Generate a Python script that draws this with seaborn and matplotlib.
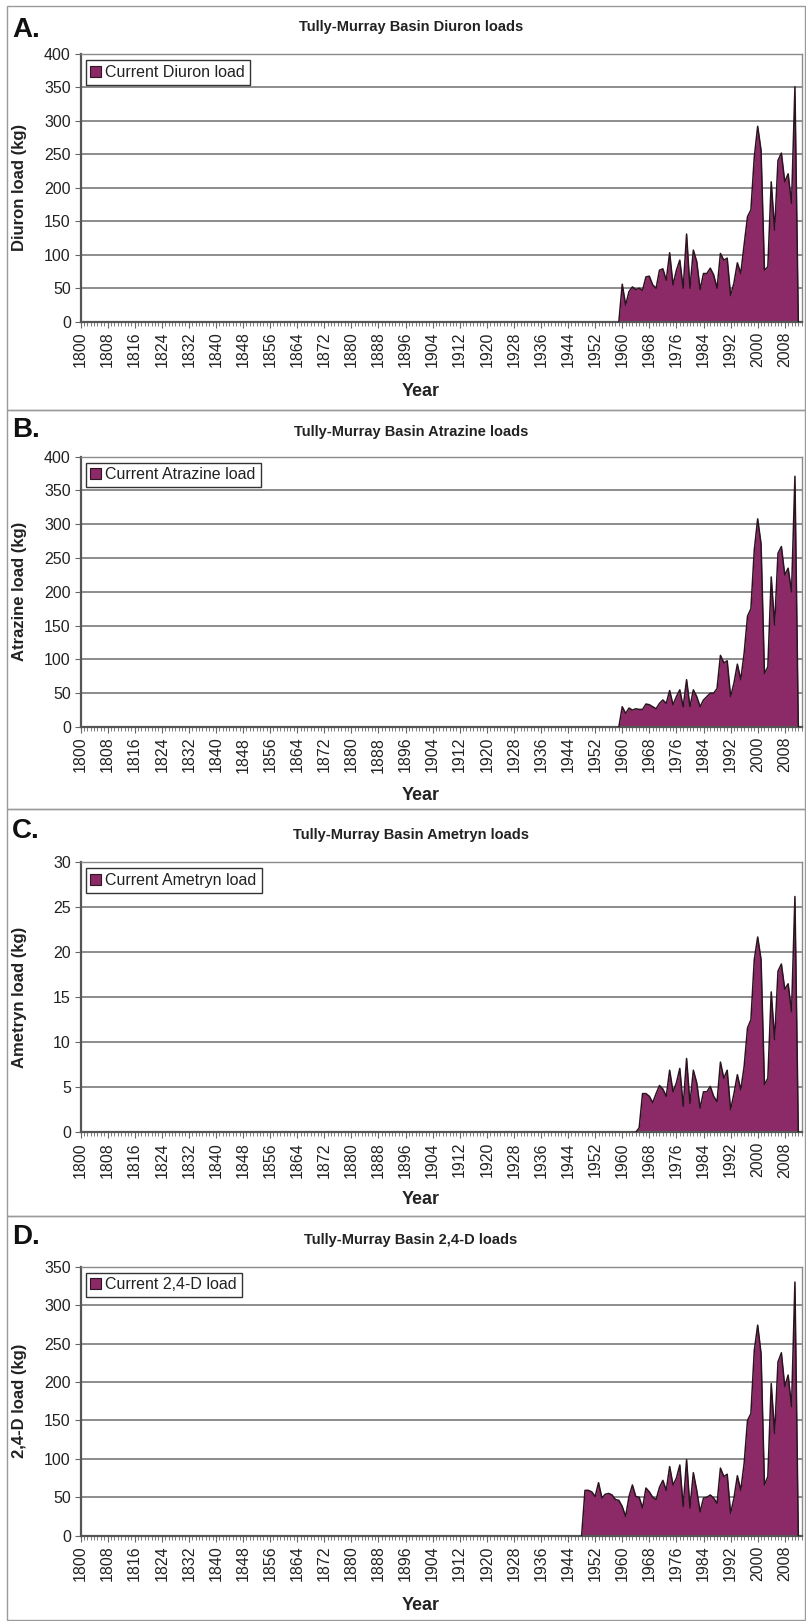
import numpy as np
import pandas as pd
import matplotlib
matplotlib.use("Agg")
import matplotlib.pyplot as plt
from matplotlib.patches import Patch, Rectangle
import seaborn as sns

# ---------------- data ----------------
years = np.arange(1800, 2014)

diuron_start = 1960
diuron_loads = [56, 25, 45, 52, 48, 50, 47, 67, 68, 55, 50, 77, 79, 62, 103, 55, 77, 92, 50, 131,
                50, 107, 90, 48, 72, 72, 80, 70, 50, 102, 92, 95, 39, 58, 88, 72, 115, 157, 167, 246,
                292, 256, 77, 82, 209, 137, 241, 252, 209, 221, 177, 351]

atrazine_start = 1960
atrazine_loads = [30, 20, 28, 25, 27, 26, 26, 34, 33, 30, 27, 35, 40, 35, 54, 33, 45, 55, 30, 70,
                  30, 55, 45, 30, 40, 45, 50, 50, 57, 106, 95, 98, 45, 65, 93, 70, 109, 164, 175, 262,
                  308, 271, 79, 89, 222, 151, 257, 267, 225, 235, 200, 371]

ametryn_start = 1965
ametryn_loads = [0.5, 4.3, 4.3, 4.0, 3.3, 4.3, 5.2, 4.8, 4.0, 6.9, 4.5, 5.5, 7.1, 2.9, 8.2, 3.2,
                 6.9, 5.5, 2.7, 4.5, 4.5, 5.1, 4.0, 3.4, 7.8, 6.0, 6.9, 2.5, 4.3, 6.4, 4.7, 7.3,
                 11.6, 12.5, 19.2, 21.7, 19.2, 5.3, 6.0, 15.6, 10.3, 17.9, 18.7, 15.9, 16.5, 13.4, 26.2]

d24_start = 1949
d24_loads = [59, 59, 57, 51, 69, 49, 54, 55, 53, 47, 46, 38, 25, 51, 66, 51, 50, 36, 62, 57,
             50, 47, 63, 72, 59, 90, 66, 75, 92, 38, 99, 36, 82, 59, 31, 49, 50, 53, 49, 42,
             88, 77, 80, 29, 49, 78, 59, 94, 150, 159, 241, 274, 237, 66, 77, 198, 133, 226,
             238, 194, 209, 168, 330]

titles = ["Tully-Murray Basin Diuron loads", "Tully-Murray Basin Atrazine loads",
          "Tully-Murray Basin Ametryn loads", "Tully-Murray Basin 2,4-D loads"]
ylabels = ["Diuron load (kg)", "Atrazine load (kg)", "Ametryn load (kg)", "2,4-D load (kg)"]
legend_labels = ["Current Diuron load", "Current Atrazine load",
                 "Current Ametryn load", "Current 2,4-D load"]
panel_letters = ["A.", "B.", "C.", "D."]
ymaxes = [400, 400, 30, 350]
ysteps = [50, 50, 5, 50]
xtick_years = list(range(1800, 2009, 8))

series = [(diuron_start, diuron_loads), (atrazine_start, atrazine_loads),
          (ametryn_start, ametryn_loads), (d24_start, d24_loads)]

# ---------------- style ----------------
sns.set_theme(style="white")
plt.rcParams["font.family"] = ["Liberation Sans", "DejaVu Sans"]

PURPLE = "#8b2a66"
EDGE = "#2a1420"
GRID = "#8c8c8c"
TXT = "#222222"

W, H = 806, 1621
fig = plt.figure(figsize=(W / 100, H / 100), dpi=100)
fig.patch.set_facecolor("white")

def fx(x):
    return x / W

def fy(y):
    return 1 - y / H

# geometry in pixels: (box_top, box_bottom, plot_top, plot_bottom, title_y, letter_y, year_y)
geom = [
    (6, 410, 54, 321.7, 27, 30, 391),
    (410, 809, 456.7, 727, 432, 430, 796),
    (809, 1216, 862.3, 1132.3, 835, 831, 1199),
    (1216, 1620, 1266.7, 1535.7, 1240, 1237, 1605),
]
PL, PR = 80.5, 801.7

for i in range(4):
    bt, bb, pt, pb, ty, ly, yy = geom[i]
    fig.patches.append(Rectangle((fx(7), fy(bb)), fx(805) - fx(7), fy(bt) - fy(bb),
                                 transform=fig.transFigure, fill=False,
                                 edgecolor="#9a9a9a", linewidth=1.0))
    ax = fig.add_axes([fx(PL), fy(pb), fx(PR) - fx(PL), fy(pt) - fy(pb)])

    start, vals = series[i]
    full = np.zeros(len(years))
    idx0 = start - 1800
    full[idx0:idx0 + len(vals)] = vals
    df = pd.DataFrame({"Year": years, "Load": full})

    ax.fill_between(df["Year"], df["Load"], color=PURPLE, linewidth=0, zorder=2)
    sub = df[(df["Year"] >= start - 1) & (df["Year"] <= 2012)]
    sns.lineplot(data=sub, x="Year", y="Load", ax=ax, color=EDGE, linewidth=1.1,
                 zorder=3, estimator=None)

    ax.set_xlim(1800, 2013)
    ax.set_ylim(0, ymaxes[i])
    ax.set_yticks(np.arange(0, ymaxes[i] + 1, ysteps[i]))
    ax.set_xticks(xtick_years)
    ax.set_xticklabels([str(y) for y in xtick_years], rotation=90)
    ax.set_xticks(np.arange(1800, 2014, 1), minor=True)
    ax.yaxis.grid(True, color=GRID, linewidth=1.4)
    ax.xaxis.grid(False)
    ax.set_axisbelow(True)
    ax.tick_params(axis="both", which="both", direction="out", length=4, width=0.8,
                   color="#666666", labelsize=11.5, labelcolor=TXT, pad=3)
    ax.tick_params(axis="x", which="minor", length=3, width=0.6, bottom=True)
    ax.tick_params(axis="x", which="major", bottom=True)
    ax.tick_params(axis="y", left=True)
    for s in ["top", "right"]:
        ax.spines[s].set_color("#8a8a8a")
        ax.spines[s].set_linewidth(1.0)
    for s in ["left", "bottom"]:
        ax.spines[s].set_color("#555555")
        ax.spines[s].set_linewidth(1.6)
    ax.set_xlabel("")
    ax.set_ylabel("")

    handle = Patch(facecolor=PURPLE, edgecolor=EDGE, linewidth=0.8)
    leg = ax.legend([handle], [legend_labels[i]], loc="upper left",
                    bbox_to_anchor=(5 / (PR - PL), 1 - 6 / (pb - pt)),
                    bbox_transform=ax.transAxes, borderaxespad=0,
                    fontsize=11.5, frameon=True, fancybox=False, shadow=False,
                    handlelength=0.7, handleheight=0.7, handletextpad=0.25,
                    borderpad=0.3, labelcolor=TXT)
    fr = leg.get_frame()
    fr.set_edgecolor("#333333")
    fr.set_linewidth(1.0)
    fr.set_facecolor("white")
    fr.set_alpha(1)

    fig.text(fx(411), fy(ty), titles[i], ha="center", va="center",
             fontsize=10.5, fontweight="bold", color=TXT)
    fig.text(fx(12), fy(ly), panel_letters[i], ha="left", va="center",
             fontsize=20, fontweight="bold", color="#111111")
    fig.text(fx(20), fy((pt + pb) / 2), ylabels[i], ha="center", va="center",
             rotation=90, fontsize=12, fontweight="bold", color=TXT)
    fig.text(fx(421), fy(yy), "Year", ha="center", va="center",
             fontsize=13, fontweight="bold", color=TXT)

fig.savefig("out.png", dpi=100, facecolor="white")
